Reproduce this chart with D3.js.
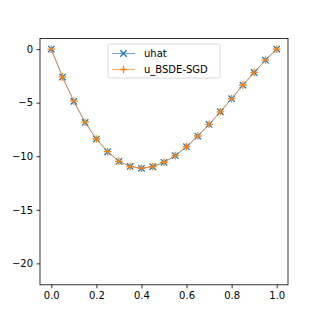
<!DOCTYPE html>
<html>
<head>
<meta charset="utf-8">
<script src="https://cdn.jsdelivr.net/npm/d3@7"></script>
<style>
  body { margin: 0; background: #fff; }
  svg { font-family: "DejaVu Sans", sans-serif; }
</style>
</head>
<body>
<div class="stage"></div>
<script>
var xs = [0, 0.05, 0.1, 0.15, 0.2, 0.25, 0.3, 0.35, 0.4, 0.45, 0.5,
          0.55, 0.6, 0.65, 0.7, 0.75, 0.8, 0.85, 0.9, 0.95, 1.0];
var uhat = [0, -2.61, -4.88, -6.84, -8.40, -9.58, -10.48, -10.95, -11.13, -10.98, -10.57,
            -9.95, -9.11, -8.12, -7.03, -5.85, -4.63, -3.36, -2.18, -1.03, 0];
var uBsde = [0, -2.60, -4.86, -6.82, -8.39, -9.57, -10.47, -10.96, -11.12, -10.97, -10.56,
             -9.94, -9.10, -8.11, -7.02, -5.85, -4.62, -3.35, -2.17, -1.02, 0];
var xTicks = [0, 0.2, 0.4, 0.6, 0.8, 1.0];
var yTicks = [0, -5, -10, -15, -20];
var seriesNames = ["uhat", "u_BSDE-SGD"];
var colors = ["#1f77b4", "#ff7f0e"];

var W = 320, H = 320;
var plotLeft = 40, plotRight = 288, plotTop = 38.4, plotBottom = 284.8;

var svg = d3.select(".stage").append("svg")
  .attr("width", W).attr("height", H);

var x = d3.scaleLinear().domain([-0.05, 1.05]).range([plotLeft, plotRight]);
var y = d3.scaleLinear().domain([-22, 1]).range([plotBottom, plotTop]);

var minus = function(v){ return String(v).replace("-", "\u2212") }

function styleAxis(g){
  g.select(".domain").remove()
  g.selectAll("text").attr("font-size", 10).attr("fill", "#000").attr("font-family", "DejaVu Sans")
  g.selectAll("line").attr("stroke", "#000").attr("stroke-width", 0.8)
}

svg.append("g")
  .attr("transform", "translate(0," + plotBottom + ")")
  .call(d3.axisBottom(x).tickValues(xTicks).tickSize(3.5).tickPadding(3.5)
    .tickFormat(d3.format(".1f")))
  .call(styleAxis)

svg.append("g")
  .attr("transform", "translate(" + plotLeft + ",0)")
  .call(d3.axisLeft(y).tickValues(yTicks).tickSize(3.5).tickPadding(3.5)
    .tickFormat(minus))
  .call(styleAxis)

var line = d3.line()
  .x(function(d){ return x(d[0]) })
  .y(function(d){ return y(d[1]) })

function crossPath(s){
  return "M" + (-s) + "," + (-s) + "L" + s + "," + s + "M" + (-s) + "," + s + "L" + s + "," + (-s)
}
function plusPath(s){
  return "M" + (-s) + ",0L" + s + ",0M0," + (-s) + "L0," + s
}
var markers = [crossPath(3.2), plusPath(3.8)];

[uhat, uBsde].forEach(function(vals, i){
  var pts = xs.map(function(v, j){ return [v, vals[j]] })
  svg.append("path")
    .datum(pts)
    .attr("d", line)
    .attr("fill", "none")
    .attr("stroke", colors[i])
    .attr("stroke-opacity", 0.8)
    .attr("stroke-width", 0.8)
  svg.append("g").selectAll("path")
    .data(pts)
    .enter().append("path")
    .attr("transform", function(d){ return "translate(" + x(d[0]) + "," + y(d[1]) + ")" })
    .attr("d", markers[i])
    .attr("stroke", colors[i])
    .attr("stroke-width", 1.3)
    .attr("fill", "none")
})

// axes frame
svg.append("rect")
  .attr("x", plotLeft).attr("y", plotTop)
  .attr("width", plotRight - plotLeft).attr("height", plotBottom - plotTop)
  .attr("fill", "none").attr("stroke", "#000").attr("stroke-width", 0.8)

// legend
var lg = svg.append("g").attr("transform", "translate(108,44)")
lg.append("rect")
  .attr("width", 112).attr("height", 34).attr("rx", 2)
  .attr("fill", "#fff").attr("fill-opacity", 0.8)
  .attr("stroke", "#d0d0d0").attr("stroke-width", 0.8)

seriesNames.forEach(function(name, i){
  var ry = 9.5 + i * 16
  lg.append("line")
    .attr("x1", 4).attr("x2", 27).attr("y1", ry).attr("y2", ry)
    .attr("stroke", colors[i]).attr("stroke-opacity", 0.8).attr("stroke-width", 0.8)
  lg.append("path")
    .attr("transform", "translate(15.5," + ry + ")")
    .attr("d", markers[i])
    .attr("stroke", colors[i]).attr("stroke-width", 1.3).attr("fill", "none")
  lg.append("text")
    .attr("x", 36).attr("y", ry).attr("dy", "0.35em")
    .attr("font-size", 10).attr("fill", "#000")
    .text(name)
})
</script>
</body>
</html>
